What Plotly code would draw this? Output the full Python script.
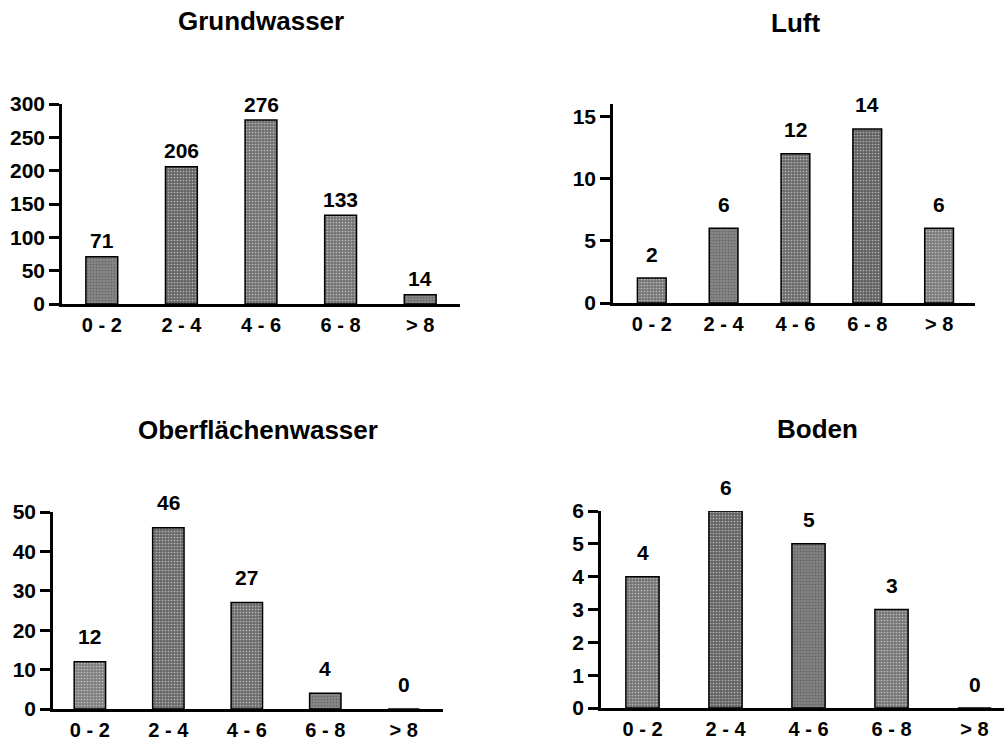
import plotly.graph_objects as go

categories = ["0 - 2", "2 - 4", "4 - 6", "6 - 8", "> 8"]

grundwasser = [71, 206, 276, 133, 14]
luft = [2, 6, 12, 14, 6]
oberflaechenwasser = [12, 46, 27, 4, 0]
boden = [4, 6, 5, 3, 0]

titles = ["Grundwasser", "Luft", "Oberflächenwasser", "Boden"]
y_ticks = [[0, 50, 100, 150, 200, 250, 300], [0, 5, 10, 15],
           [0, 10, 20, 30, 40, 50], [0, 1, 2, 3, 4, 5, 6]]

# styling (not data)
bar_colors = [
    ["#858585", "#666666", "#727272", "#757575", "#858585"],
    ["#777777", "#858585", "#6c6c6c", "#626262", "#7c7c7c"],
    ["#7f7f7f", "#696969", "#6d6d6d", "#878787", "#878787"],
    ["#757575", "#646464", "#808080", "#777777", "#777777"],
]
W, H = 1004, 740
FONT = "Liberation Sans, Arial, Helvetica, sans-serif"

panels = [
    # (values, x-domain px, x-range, y-bottom px, y-top px, y-range, title xy px, label shift, standoff)
    (grundwasser, (62, 460), [-0.5, 4.5], 304, 104, [0, 300], (261, 21), 16, 1),
    (luft, (613, 975), [-0.54, 4.5], 303, 104, [0, 16], (795, 23), 24, 1),
    (oberflaechenwasser, (53, 443), [-0.47, 4.5], 709, 512, [0, 50], (258, 430), 25, 1),
    (boden, (601, 1004), [-0.5, 4.355], 708, 511, [0, 6], (817, 429), 24, 1),
]

fig = go.Figure()
annotations = []
layout = {}
for i, (vals, xd, xr, yb, yt, yr, tpos, lshift, standoff) in enumerate(panels):
    n = "" if i == 0 else str(i + 1)
    xa, ya = "x" + n, "y" + n
    fig.add_trace(go.Bar(
        x=categories, y=vals, xaxis=xa, yaxis=ya,
        marker=dict(
            color=bar_colors[i], line=dict(color="black", width=1.5),
            pattern=dict(shape=".", fgcolor="#2e2e2e", size=3, solidity=0.25,
                         fillmode="overlay"),
        ),
        width=0.4, showlegend=False, hoverinfo="x+y",
    ))
    layout["xaxis" + n] = dict(
        domain=[xd[0] / W, xd[1] / W], range=xr, anchor=ya, automargin=False,
        showline=True, linecolor="black", linewidth=2.5, showgrid=False,
        zeroline=False, ticks="", ticklabelstandoff=standoff,
        tickfont=dict(family=FONT, size=20, color="black", weight="bold"),
        fixedrange=True,
    )
    layout["yaxis" + n] = dict(
        domain=[1 - yb / H, 1 - yt / H], range=yr, anchor=xa, automargin=False,
        showline=True, linecolor="black", linewidth=2.5, showgrid=False,
        zeroline=False, ticks="outside", ticklen=10, tickwidth=2.5,
        tickcolor="black", tickvals=y_ticks[i],
        tickfont=dict(family=FONT, size=21, color="black", weight="bold"),
        fixedrange=True,
    )
    for c, v in zip(categories, vals):
        annotations.append(dict(
            x=c, y=v, xref=xa, yref=ya, text=str(v), showarrow=False,
            yanchor="middle", yshift=lshift,
            font=dict(family=FONT, size=21, color="black", weight="bold"),
        ))
    annotations.append(dict(
        x=tpos[0] / W, y=1 - tpos[1] / H, xref="paper", yref="paper",
        text=titles[i], showarrow=False, xanchor="center", yanchor="middle",
        font=dict(family=FONT, size=26, color="black", weight="bold"),
    ))

fig.update_layout(
    width=W, height=H, margin=dict(l=0, r=0, t=0, b=0, autoexpand=False),
    paper_bgcolor="white", plot_bgcolor="white",
    annotations=annotations, bargap=0.6, **layout,
)
fig.write_html("out.html", config={"displayModeBar": False},
               post_script="document.body.style.margin='0';")
